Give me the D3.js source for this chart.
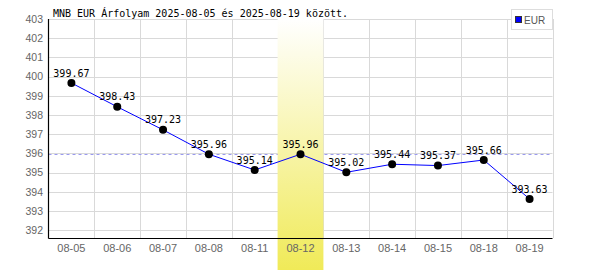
<!DOCTYPE html>
<html>
<head>
<meta charset="utf-8">
<script src="https://cdn.jsdelivr.net/npm/d3@7"></script>
<style>
  body { margin: 0; background: #fff; }
  svg { display: block; }
</style>
</head>
<body>
<svg id="chart" width="600" height="270"></svg>
<script>
"use strict";

// data
var dates = ["08-05", "08-06", "08-07", "08-08", "08-11", "08-12", "08-13", "08-14", "08-15", "08-18", "08-19"];
var rates = [399.67, 398.43, 397.23, 395.96, 395.14, 395.96, 395.02, 395.44, 395.37, 395.66, 393.63];
var yTicks = [392, 393, 394, 395, 396, 397, 398, 399, 400, 401, 402, 403];
var highlightDate = "08-12";
var refValue = 395.96;
var title = "MNB EUR Árfolyam 2025-08-05 és 2025-08-19 között.";
var seriesName = "EUR";

var svg = d3.select("#chart");
var plotL = 48.5, plotR = 552.5, plotT = 19, plotB = 238;

var x = d3.scaleBand().domain(dates).range([plotL, plotR]);
var y = d3.scaleLinear().domain([391.6, 403]).range([plotB, plotT]);
var mono = "'DejaVu Sans Mono', monospace";
var sans = "'Liberation Sans', Arial, sans-serif";

// grid
svg.append("g")
  .selectAll("line")
  .data(yTicks)
  .enter()
  .append("line")
  .attr("x1", plotL).attr("x2", plotR)
  .attr("y1", (d) => Math.round(y(d)) + 0.5)
  .attr("y2", (d) => Math.round(y(d)) + 0.5)
  .attr("stroke", "#d9d9d9");

svg.append("g")
  .selectAll("line")
  .data(dates)
  .enter()
  .append("line")
  .attr("x1", (d) => Math.round(x(d) + x.bandwidth()) + 0.5)
  .attr("x2", (d) => Math.round(x(d) + x.bandwidth()) + 0.5)
  .attr("y1", plotT).attr("y2", plotB)
  .attr("stroke", "#d9d9d9");

// reference (dashed) line
svg.append("line")
  .attr("x1", plotL).attr("x2", plotR)
  .attr("y1", Math.round(y(refValue)) + 0.5)
  .attr("y2", Math.round(y(refValue)) + 0.5)
  .attr("stroke", "#9a9aee")
  .attr("stroke-dasharray", "3,3");

// highlighted day
var grad = svg.append("defs").append("linearGradient")
  .attr("id", "hl").attr("x1", 0).attr("y1", 0).attr("x2", 0).attr("y2", 1);
grad.append("stop").attr("offset", "0%").attr("stop-color", "#ffffff");
grad.append("stop").attr("offset", "100%").attr("stop-color", "#f0ea58");

svg.append("rect")
  .attr("x", x(highlightDate))
  .attr("y", plotT)
  .attr("width", x.bandwidth())
  .attr("height", 270 - plotT)
  .attr("fill", "url(#hl)");

// axes lines
svg.append("line")
  .attr("x1", plotL).attr("x2", plotL)
  .attr("y1", plotT).attr("y2", plotB + 0.5)
  .attr("stroke", "#000").attr("stroke-width", 1.2);
svg.append("line")
  .attr("x1", plotL).attr("x2", plotR)
  .attr("y1", plotB + 0.5).attr("y2", plotB + 0.5)
  .attr("stroke", "#000").attr("stroke-width", 1.2);

// tick labels
svg.append("g")
  .selectAll("text")
  .data(yTicks)
  .enter()
  .append("text")
  .attr("x", 43)
  .attr("y", (d) => y(d))
  .attr("dy", "0.36em")
  .attr("text-anchor", "end")
  .attr("font-family", sans)
  .attr("font-size", "10.5px")
  .attr("fill", "#666")
  .text((d) => d);

svg.append("g")
  .selectAll("text")
  .data(dates)
  .enter()
  .append("text")
  .attr("x", (d) => x(d) + x.bandwidth() / 2)
  .attr("y", 248)
  .attr("dy", "0.36em")
  .attr("text-anchor", "middle")
  .attr("font-family", sans)
  .attr("font-size", "11px")
  .attr("fill", "#666")
  .text((d) => d);

// series
var pts = dates.map((d, i) => ({ date: d, value: rates[i] }));
var cx = (d) => x(d.date) + x.bandwidth() / 2;

svg.append("path")
  .datum(pts)
  .attr("fill", "none")
  .attr("stroke", "#0000ff")
  .attr("stroke-width", 1)
  .attr("d", d3.line().x(cx).y((d) => y(d.value)));

svg.append("g")
  .selectAll("circle")
  .data(pts)
  .enter()
  .append("circle")
  .attr("cx", cx)
  .attr("cy", (d) => y(d.value))
  .attr("r", 4)
  .attr("fill", "#000");

svg.append("g")
  .selectAll("text")
  .data(pts)
  .enter()
  .append("text")
  .attr("x", cx)
  .attr("y", (d) => y(d.value) - 10)
  .attr("dy", "0.36em")
  .attr("text-anchor", "middle")
  .attr("font-family", mono)
  .attr("font-size", "10px")
  .attr("fill", "#000")
  .text((d) => d.value.toFixed(2));

// title
svg.append("text")
  .attr("x", 53)
  .attr("y", 13)
  .attr("dy", "0.36em")
  .attr("font-family", mono)
  .attr("font-size", "10px")
  .attr("fill", "#000")
  .text(title);

// legend
var legend = svg.append("g");
legend.append("rect")
  .attr("x", 511.5).attr("y", 9.5)
  .attr("width", 41).attr("height", 20)
  .attr("fill", "#fff").attr("stroke", "#ddd");
legend.append("rect")
  .attr("x", 515.5).attr("y", 16.5)
  .attr("width", 6).attr("height", 6)
  .attr("fill", "#0000ff").attr("stroke", "#333");
legend.append("text")
  .attr("x", 524).attr("y", 20)
  .attr("dy", "0.36em")
  .attr("font-family", sans)
  .attr("font-size", "10px")
  .attr("fill", "#555")
  .text(seriesName);
</script>
</body>
</html>
